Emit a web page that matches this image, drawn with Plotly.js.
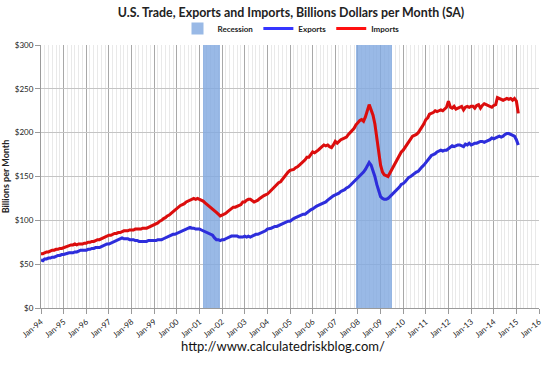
<!DOCTYPE html>
<html>
<head>
<meta charset="utf-8">
<script src="https://cdn.plot.ly/plotly-3.0.1.min.js"></script>
<style>html,body{margin:0;padding:0;background:#fff;}#chart{width:550px;height:369px;}</style>
</head>
<body>
<div id="chart"></div>
<script>
// Monthly series, Jan 1994 .. Feb 2015 (billions of dollars per month, SA)
const startYear = 1994;
const exportsByYear = [
  [55,54,56,56,57,57,58,58,59,60,60,61],        // 1994
  [61,62,62,63,63,63,64,64,65,66,66,66],        // 1995
  [66,67,67,68,68,69,69,69,70,71,72,73],        // 1996
  [73,74,75,76,77,78,79,80,79,79,79,78],        // 1997
  [78,78,77,77,76,76,76,76,76,77,77,77],        // 1998
  [77,77,78,78,78,79,80,81,82,83,84,84],        // 1999
  [85,86,87,88,89,90,91,92,91,91,90,90],        // 2000
  [90,89,88,87,86,85,84,83,80,78,78,77],        // 2001
  [78,78,79,80,81,82,82,82,82,81,81,81],        // 2002
  [82,81,82,81,82,83,84,84,85,86,87,88],        // 2003
  [90,91,91,92,93,93,94,95,96,97,98,99],        // 2004
  [99,101,102,103,104,105,106,107,107,109,110,112], // 2005
  [113,115,116,117,118,119,120,121,123,125,126,128], // 2006
  [129,130,131,133,134,135,137,138,140,142,144,146], // 2007
  [148,150,152,155,158,162,166,163,157,150,141,133], // 2008
  [127,125,124,124,125,127,129,131,133,136,138,141], // 2009
  [142,144,147,149,150,152,153,155,156,159,161,163], // 2010
  [166,168,172,174,175,176,178,179,180,179,180,180], // 2011
  [182,184,185,184,185,186,186,185,184,187,186,188], // 2012
  [186,187,188,188,189,190,190,189,190,191,192,194], // 2013
  [193,194,195,196,195,196,198,199,199,198,197,196], // 2014
  [192,186]                                          // 2015
];
const importsByYear = [
  [62,62,63,64,64,65,66,66,67,67,68,68],        // 1994
  [69,70,70,71,72,72,73,72,73,73,73,74],        // 1995
  [74,75,75,76,76,77,78,78,79,80,81,82],        // 1996
  [83,83,84,85,85,86,86,87,88,88,88,89],        // 1997
  [89,89,90,90,90,90,91,91,91,92,93,94],        // 1998
  [95,96,97,99,100,102,103,105,106,108,110,111],    // 1999
  [113,115,117,118,119,121,122,123,124,125,124,125], // 2000
  [124,123,122,120,118,117,115,113,111,109,107,105], // 2001
  [106,107,108,110,112,113,115,115,116,117,118,121], // 2002
  [121,123,124,124,122,121,122,123,125,127,128,129], // 2003
  [130,132,134,137,139,141,143,144,147,150,152,155], // 2004
  [157,158,158,160,161,163,165,166,169,172,172,175], // 2005
  [178,177,179,180,182,184,186,185,186,184,183,186], // 2006
  [190,188,190,192,193,194,195,198,200,202,205,209], // 2007
  [212,214,215,213,218,224,232,226,220,210,192,175], // 2008
  [163,155,152,151,150,154,158,162,166,171,174,178], // 2009
  [180,183,186,189,192,196,197,198,200,203,206,210], // 2010
  [215,217,221,222,223,225,224,225,226,225,227,229], // 2011
  [236,229,228,230,227,228,229,230,226,229,230,229], // 2012
  [230,230,228,231,232,228,231,233,232,231,230,229], // 2013
  [231,232,240,239,238,237,238,239,238,239,237,239], // 2014
  [236,222]                                          // 2015
];
const recessionStart = ['2001-03-01','2007-12-01'];
const recessionEnd   = ['2001-11-30','2009-06-30'];
const yAxisMax = 300;

const titleText = 'U.S. Trade, Exports and Imports, Billions Dollars per Month (SA)';
const yTitleText = 'Billions per Month';
const sourceText = 'http://www.calculatedriskblog.com/';

// build monthly dates and flat series
const dates = [], exportsVals = [], importsVals = [];
exportsByYear.forEach((row, yi) => {
  row.forEach((v, m) => {
    const y = startYear + yi;
    dates.push(y + '-' + String(m + 1).padStart(2, '0') + '-01');
    exportsVals.push(v);
    importsVals.push(importsByYear[yi][m]);
  });
});

// recession bars: centre and width from start/end dates
const recMid = [], recWidth = [], recTop = [];
recessionStart.forEach((s, i) => {
  const a = new Date(s + 'T00:00:00Z').getTime();
  const b = new Date(recessionEnd[i] + 'T23:59:59Z').getTime();
  recMid.push(new Date((a + b) / 2).toISOString().slice(0, 19).replace('T', ' '));
  recWidth.push(b - a);
  recTop.push(yAxisMax);
});

const font = 'Lato, "Open Sans", "Liberation Sans", sans-serif';
const traces = [
  {type:'bar', name:'Recession', x:recMid, y:recTop, width:recWidth,
   marker:{color:'rgba(130,170,225,0.82)', line:{width:0}}, hoverinfo:'skip',
   xaxis:'x', yaxis:'y'},
  // drop shadows (same data on offset axes)
  {type:'scatter', mode:'lines', x:dates, y:exportsVals, xaxis:'x2', yaxis:'y2',
   line:{color:'rgba(0,0,0,0.14)', width:3}, showlegend:false, hoverinfo:'skip'},
  {type:'scatter', mode:'lines', x:dates, y:importsVals, xaxis:'x2', yaxis:'y2',
   line:{color:'rgba(0,0,0,0.14)', width:3}, showlegend:false, hoverinfo:'skip'},
  {type:'scatter', mode:'lines', name:'Exports', x:dates, y:exportsVals,
   line:{color:'#3535FF', width:3}, xaxis:'x', yaxis:'y'},
  {type:'scatter', mode:'lines', name:'Imports', x:dates, y:importsVals,
   line:{color:'#FF1010', width:3}, xaxis:'x', yaxis:'y'}
];

const xRange = ['1994-01-01', '2016-01-01'];
const layout = {
  width:550, height:369,
  margin:{l:41, r:9, t:45, b:59},
  paper_bgcolor:'#ffffff', plot_bgcolor:'#ffffff',
  font:{family:font, color:'#222'},
  title:{text:'<b>' + titleText + '</b>', font:{family:font, size:12.4, color:'#222'},
         x:0.5, xanchor:'center', xref:'paper', y:0.967, yref:'container', yanchor:'middle'},
  showlegend:true,
  legend:{orientation:'h', x:0.5, xanchor:'center', y:1.062, yanchor:'middle',
          font:{family:font, size:8, color:'#222', weight:'bold'}, itemwidth:30, traceorder:'normal',
          bgcolor:'rgba(0,0,0,0)'},
  bargap:0,
  xaxis:{type:'date', domain:[0, 0.996], range:xRange, dtick:'M12', tick0:'1994-01-01',
         tickformat:'%b-%y', tickangle:-40, tickfont:{family:font, size:8, color:'#222'},
         ticks:'outside', ticklen:5, tickcolor:'#9a9a9a', showline:true, linecolor:'#9a9a9a',
         showgrid:true, gridcolor:'#a8a8a8', gridwidth:1, zeroline:false,
         minor:{dtick:'M2', showgrid:true, gridcolor:'#e9e9e9', gridwidth:1, ticks:''},
         fixedrange:true},
  yaxis:{domain:[0.0075, 1], range:[0, yAxisMax], dtick:50, tickprefix:'$',
         tickfont:{family:font, size:8, color:'#222'}, ticks:'outside', ticklen:5,
         tickcolor:'#9a9a9a', showline:true, linecolor:'#9a9a9a', showgrid:true,
         gridcolor:'#c4c4c4', gridwidth:1, zeroline:false,
         title:{text:'<b>' + yTitleText + '</b>', font:{family:font, size:9, color:'#222'}, standoff:6},
         fixedrange:true},
  xaxis2:{type:'date', domain:[0.004, 1], range:xRange, overlaying:'x', visible:false, anchor:'y2'},
  yaxis2:{domain:[0, 0.9925], range:[0, yAxisMax], overlaying:'y', visible:false, anchor:'x2'},
  annotations:[{text:sourceText, xref:'paper', yref:'paper', x:0.484, y:-0.136,
                xanchor:'center', yanchor:'middle', showarrow:false,
                font:{family:font, size:13, color:'#111'}}]
};

Plotly.newPlot('chart', traces, layout, {displayModeBar:false, staticPlot:true});
</script>
</body>
</html>
